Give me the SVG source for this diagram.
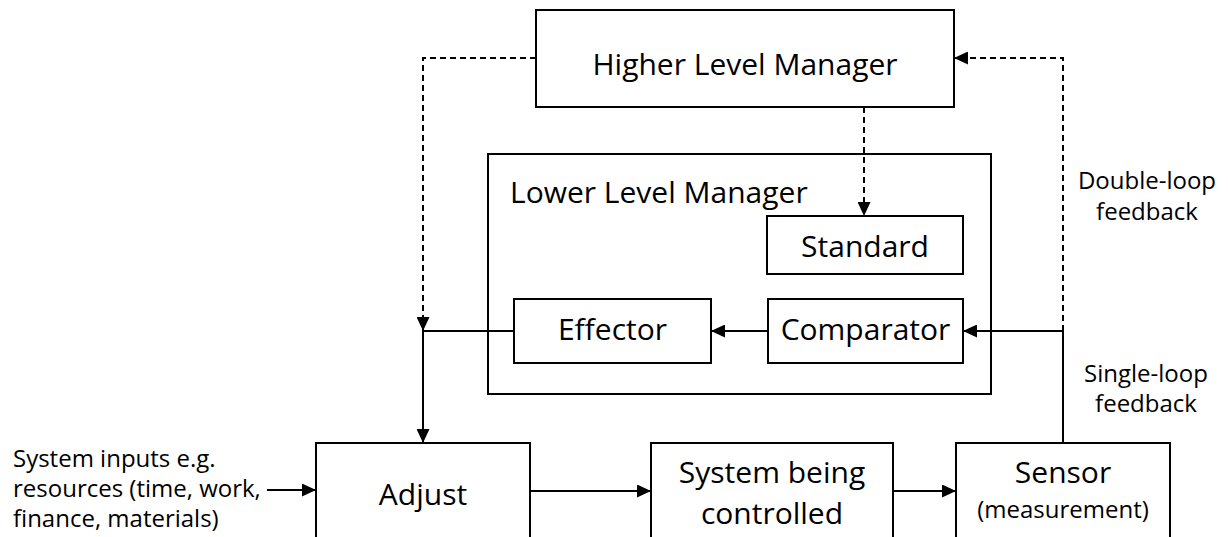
<svg xmlns="http://www.w3.org/2000/svg" width="1228" height="537" viewBox="0 0 1228 537">
<defs>
<marker id="arr" markerUnits="userSpaceOnUse" markerWidth="14" markerHeight="13" refX="14" refY="6.5" orient="auto">
<path d="M0,0 L14,6.5 L0,13 z" fill="#000"/>
</marker>
<style>
.box{fill:#fff;stroke:#000;stroke-width:2}
.t{font-family:"Open Sans","Liberation Sans",sans-serif;fill:#000}
.l{font-size:30px}
.s{font-size:24px}
.c{text-anchor:middle}
.ln{fill:none;stroke:#000;stroke-width:2}
.d{stroke-dasharray:6 4}
</style>
</defs>
<rect width="1228" height="537" fill="#fff"/>
<g id="lower-level-manager">
<rect class="box" x="488" y="154" width="503" height="240"/>
<text class="t l" x="510" y="203">Lower Level Manager</text>
</g>
<g id="higher-level-manager">
<rect class="box" x="536" y="10" width="418" height="97"/>
<text class="t l c" x="745" y="75">Higher Level Manager</text>
</g>
<g id="standard">
<rect class="box" x="767" y="216" width="196" height="58"/>
<text class="t l c" x="865" y="257">Standard</text>
</g>
<g id="effector">
<rect class="box" x="514" y="299" width="197" height="64"/>
<text class="t l c" x="612.5" y="340">Effector</text>
</g>
<g id="comparator">
<rect class="box" x="768" y="299" width="195" height="64"/>
<text class="t l c" x="865.5" y="340">Comparator</text>
</g>
<g id="adjust">
<rect class="box" x="316" y="443" width="214" height="130"/>
<text class="t l c" x="423" y="505">Adjust</text>
</g>
<g id="system">
<rect class="box" x="651" y="443" width="242" height="130"/>
<text class="t l c" x="772" y="483">System being</text>
<text class="t l c" x="772" y="524">controlled</text>
</g>
<g id="sensor">
<rect class="box" x="956" y="443" width="214" height="130"/>
<text class="t l c" x="1063" y="483">Sensor</text>
<text class="t s c" x="1063" y="518">(measurement)</text>
</g>
<g id="labels">
<text class="t s" x="13" y="467">System inputs e.g.</text>
<text class="t s" x="13" y="497">resources (time, work,</text>
<text class="t s" x="13" y="527">finance, materials)</text>
<text class="t s c" x="1147" y="189">Double-loop</text>
<text class="t s c" x="1147" y="220">feedback</text>
<text class="t s c" x="1146" y="382">Single-loop</text>
<text class="t s c" x="1146" y="412">feedback</text>
</g>
<g id="connectors">
<path class="ln d" d="M536,58 H423 V331" marker-end="url(#arr)"/>
<path class="ln d" d="M1063,331 V58 H954" marker-end="url(#arr)"/>
<path class="ln d" d="M864,107 V216" marker-end="url(#arr)"/>
<path class="ln" d="M1063,443 V331 H963" marker-end="url(#arr)"/>
<path class="ln" d="M768,331 H711" marker-end="url(#arr)"/>
<path class="ln" d="M514,331 H423 V443" marker-end="url(#arr)"/>
<path class="ln" d="M267,490 H316" marker-end="url(#arr)"/>
<path class="ln" d="M530,491 H651" marker-end="url(#arr)"/>
<path class="ln" d="M893,491 H956" marker-end="url(#arr)"/>
</g>
</svg>
